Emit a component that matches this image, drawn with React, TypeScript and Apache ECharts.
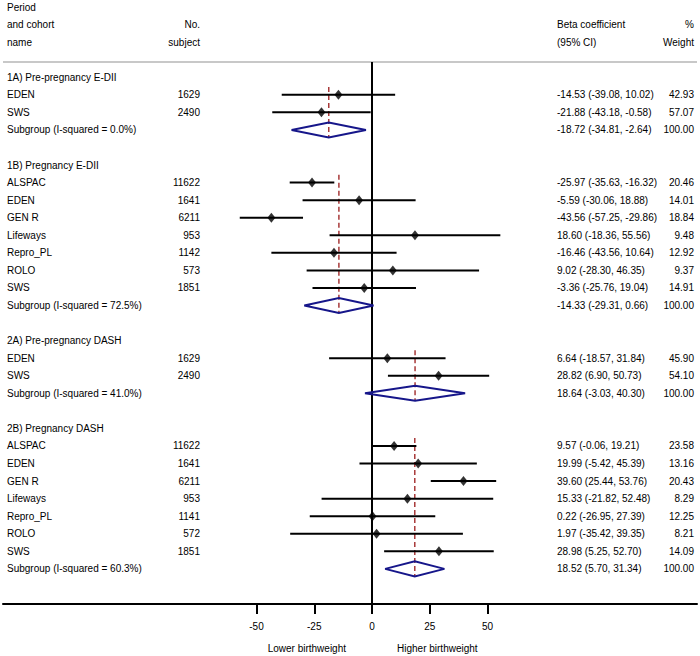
import React, { useEffect, useRef } from "react";
import * as echarts from "echarts";

// ---------- data ----------
const groupTitles = [
  "1A) Pre-pregnancy E-DII",
  "1B) Pregnancy E-DII",
  "2A) Pre-pregnancy DASH",
  "2B) Pregnancy DASH",
];
const studyGroup = [0, 0, 1, 1, 1, 1, 1, 1, 1, 2, 2, 3, 3, 3, 3, 3, 3, 3];
const studyNames = [
  "EDEN", "SWS",
  "ALSPAC", "EDEN", "GEN R", "Lifeways", "Repro_PL", "ROLO", "SWS",
  "EDEN", "SWS",
  "ALSPAC", "EDEN", "GEN R", "Lifeways", "Repro_PL", "ROLO", "SWS",
];
const studyN = [1629, 2490, 11622, 1641, 6211, 953, 1142, 573, 1851, 1629, 2490, 11622, 1641, 6211, 953, 1141, 572, 1851];
const studyBeta = [-14.53, -21.88, -25.97, -5.59, -43.56, 18.6, -16.46, 9.02, -3.36, 6.64, 28.82, 9.57, 19.99, 39.6, 15.33, 0.22, 1.97, 28.98];
const studyLow = [-39.08, -43.18, -35.63, -30.06, -57.25, -18.36, -43.56, -28.3, -25.76, -18.57, 6.9, -0.06, -5.42, 25.44, -21.82, -26.95, -35.42, 5.25];
const studyHigh = [10.02, -0.58, -16.32, 18.88, -29.86, 55.56, 10.64, 46.35, 19.04, 31.84, 50.73, 19.21, 45.39, 53.76, 52.48, 27.39, 39.35, 52.7];
const studyWeight = [42.93, 57.07, 20.46, 14.01, 18.84, 9.48, 12.92, 9.37, 14.91, 45.9, 54.1, 23.58, 13.16, 20.43, 8.29, 12.25, 8.21, 14.09];
const subgroupI2 = [0.0, 72.5, 41.0, 60.3];
const subgroupBeta = [-18.72, -14.33, 18.64, 18.52];
const subgroupLow = [-34.81, -29.31, -3.03, 5.7];
const subgroupHigh = [-2.64, 0.66, 40.3, 31.34];
const subgroupWeight = [100, 100, 100, 100];
const xTicks = [-50, -25, 0, 25, 50];
const headerName = ["Period", "and cohort", "name"];
const headerN = ["No.", "subject"];
const headerCI = ["Beta coefficient", "(95% CI)"];
const headerWeight = ["%", "Weight"];
const axisNotes = ["Lower birthweight", "Higher birthweight"];

// ---------- layout ----------
const W = 700;
const H = 656;
const ZERO_X = 372;
const PX_PER_UNIT = 2.31;
const PLOT_LEFT = 3;
const PLOT_RIGHT = 697;
const AXIS_Y = 604;
const Y_MIN = -4.4;
const Y_MAX = 30;
const FONT = '"Liberation Sans", Arial, sans-serif';
const NAVY = "#16168a";
const RED = "#a83a3a";

const COLS: Record<string, { x: number; align: string }> = {
  name: { x: 7, align: "left" },
  n: { x: 200, align: "right" },
  ci: { x: 557, align: "left" },
  w: { x: 694, align: "right" },
};

function fmt(v: number) {
  return v.toFixed(2);
}

function buildLayout() {
  const titleRows: number[] = [];
  const firstRows: number[] = [];
  const subRows: number[] = [];
  const studyRows: number[] = [];
  let row = 0;
  for (let g = 0; g < groupTitles.length; g++) {
    titleRows[g] = row++;
    firstRows[g] = row;
    for (let i = 0; i < studyGroup.length; i++) {
      if (studyGroup[i] === g) studyRows[i] = row++;
    }
    subRows[g] = row++;
    row++;
  }
  return { titleRows, firstRows, subRows, studyRows };
}

export default function App() {
  const ref = useRef<HTMLDivElement>(null);

  useEffect(() => {
    if (!ref.current) return;
    const chart = echarts.init(ref.current, null, { renderer: "svg" });
    const { titleRows, firstRows, subRows, studyRows } = buildLayout();

    const texts: { row: number; col: string; text: string }[] = [];
    headerName.forEach((t, i) => texts.push({ row: -4 + i, col: "name", text: t }));
    headerN.forEach((t, i) => texts.push({ row: -3 + i, col: "n", text: t }));
    headerCI.forEach((t, i) => texts.push({ row: -3 + i, col: "ci", text: t }));
    headerWeight.forEach((t, i) => texts.push({ row: -3 + i, col: "w", text: t }));
    groupTitles.forEach((t, g) => texts.push({ row: titleRows[g], col: "name", text: t }));
    studyNames.forEach((t, i) => {
      const r = studyRows[i];
      texts.push({ row: r, col: "name", text: t });
      texts.push({ row: r, col: "n", text: String(studyN[i]) });
      texts.push({
        row: r,
        col: "ci",
        text: `${fmt(studyBeta[i])} (${fmt(studyLow[i])}, ${fmt(studyHigh[i])})`,
      });
      texts.push({ row: r, col: "w", text: fmt(studyWeight[i]) });
    });
    subgroupBeta.forEach((b, g) => {
      const r = subRows[g];
      texts.push({ row: r, col: "name", text: `Subgroup (I-squared = ${subgroupI2[g].toFixed(1)}%)` });
      texts.push({ row: r, col: "ci", text: `${fmt(b)} (${fmt(subgroupLow[g])}, ${fmt(subgroupHigh[g])})` });
      texts.push({ row: r, col: "w", text: fmt(subgroupWeight[g]) });
    });

    const xMin = (PLOT_LEFT - ZERO_X) / PX_PER_UNIT;
    const xMax = (PLOT_RIGHT - ZERO_X) / PX_PER_UNIT;
    const tickMin = xTicks[0];
    const tickMax = xTicks[xTicks.length - 1];

    const option: any = {
      animation: false,
      grid: [
        { left: PLOT_LEFT, width: PLOT_RIGHT - PLOT_LEFT, top: 0, height: AXIS_Y },
        {
          left: ZERO_X + tickMin * PX_PER_UNIT,
          width: (tickMax - tickMin) * PX_PER_UNIT,
          top: AXIS_Y - 4,
          height: 4,
        },
      ],
      xAxis: [
        {
          type: "value",
          gridIndex: 0,
          min: xMin,
          max: xMax,
          position: "bottom",
          axisLine: { show: true, onZero: false, lineStyle: { color: "#000", width: 2 } },
          axisTick: { show: false },
          axisLabel: { show: false },
          splitLine: { show: false },
        },
        {
          type: "value",
          gridIndex: 1,
          min: tickMin,
          max: tickMax,
          interval: 25,
          position: "bottom",
          axisLine: { show: false, onZero: false },
          axisTick: { show: true, length: 10, lineStyle: { color: "#000", width: 2 } },
          axisLabel: { show: true, margin: 17, color: "#000", fontSize: 10, fontFamily: FONT },
          splitLine: { show: false },
        },
      ],
      yAxis: [
        { type: "value", gridIndex: 0, min: Y_MIN, max: Y_MAX, inverse: true, show: false },
        { type: "value", gridIndex: 1, min: 0, max: 1, show: false },
      ],
      graphic: [
        {
          type: "line",
          shape: { x1: PLOT_LEFT, y1: 62, x2: PLOT_RIGHT, y2: 62 },
          style: { stroke: "#c8c8c8", lineWidth: 2 },
          silent: true,
        },
        {
          type: "text",
          x: 346,
          y: 648,
          style: { text: axisNotes[0], fill: "#000", fontSize: 10, fontFamily: FONT, align: "right", verticalAlign: "middle" },
        },
        {
          type: "text",
          x: 397,
          y: 648,
          style: { text: axisNotes[1], fill: "#000", fontSize: 10, fontFamily: FONT, align: "left", verticalAlign: "middle" },
        },
      ],
      series: [
        // zero reference line
        {
          type: "custom",
          xAxisIndex: 0,
          yAxisIndex: 0,
          clip: false,
          silent: true,
          data: [[0, -0.87, Y_MAX]],
          renderItem: (params: any, api: any) => {
            const p1 = api.coord([api.value(0), api.value(1)]);
            const p2 = api.coord([api.value(0), api.value(2)]);
            return {
              type: "line",
              shape: { x1: p1[0], y1: p1[1], x2: p2[0], y2: p2[1] },
              style: { stroke: "#000", lineWidth: 2 },
            };
          },
        },
        // subgroup dashed lines
        {
          type: "custom",
          xAxisIndex: 0,
          yAxisIndex: 0,
          clip: false,
          silent: true,
          data: subgroupBeta.map((b, g) => [b, firstRows[g] - 0.45, subRows[g] + 0.42]),
          renderItem: (params: any, api: any) => {
            const p1 = api.coord([api.value(0), api.value(1)]);
            const p2 = api.coord([api.value(0), api.value(2)]);
            return {
              type: "line",
              shape: { x1: p1[0], y1: p1[1], x2: p2[0], y2: p2[1] },
              style: { stroke: RED, lineWidth: 1.5, lineDash: [5, 3] },
            };
          },
        },
        // study CI whiskers
        {
          type: "custom",
          xAxisIndex: 0,
          yAxisIndex: 0,
          clip: false,
          silent: true,
          data: studyBeta.map((b, i) => [b, studyRows[i], studyLow[i], studyHigh[i]]),
          renderItem: (params: any, api: any) => {
            const p1 = api.coord([api.value(2), api.value(1)]);
            const p2 = api.coord([api.value(3), api.value(1)]);
            return {
              type: "line",
              shape: { x1: p1[0], y1: p1[1], x2: p2[0], y2: p2[1] },
              style: { stroke: "#000", lineWidth: 2 },
            };
          },
        },
        // study point estimates
        {
          type: "scatter",
          xAxisIndex: 0,
          yAxisIndex: 0,
          symbol: "diamond",
          symbolSize: [8, 10],
          itemStyle: { color: "#000" },
          silent: true,
          data: studyBeta.map((b, i) => [b, studyRows[i]]),
        },
        // subgroup diamonds
        {
          type: "custom",
          xAxisIndex: 0,
          yAxisIndex: 0,
          clip: false,
          silent: true,
          data: subgroupBeta.map((b, g) => [b, subRows[g], subgroupLow[g], subgroupHigh[g]]),
          renderItem: (params: any, api: any) => {
            const c = api.coord([api.value(0), api.value(1)]);
            const l = api.coord([api.value(2), api.value(1)]);
            const r = api.coord([api.value(3), api.value(1)]);
            const h = 7.5;
            return {
              type: "polygon",
              shape: { points: [l, [c[0], c[1] - h], r, [c[0], c[1] + h]] },
              style: { stroke: NAVY, fill: "none", lineWidth: 2 },
            };
          },
        },
        // table texts
        {
          type: "custom",
          xAxisIndex: 0,
          yAxisIndex: 0,
          clip: false,
          silent: true,
          data: texts.map((t) => [0, t.row]),
          renderItem: (params: any, api: any) => {
            const t = texts[params.dataIndex];
            const col = COLS[t.col];
            const y = api.coord([0, api.value(1)])[1];
            return {
              type: "text",
              x: col.x,
              y,
              style: {
                text: t.text,
                fill: "#000",
                fontSize: 10,
                fontFamily: FONT,
                align: col.align,
                verticalAlign: "middle",
              },
            };
          },
        },
      ],
    };

    chart.setOption(option);
    return () => chart.dispose();
  }, []);

  return (
    <div
      ref={ref}
      style={{ position: "absolute", left: 0, top: 0, width: W, height: H, background: "#fff" }}
    />
  );
}
